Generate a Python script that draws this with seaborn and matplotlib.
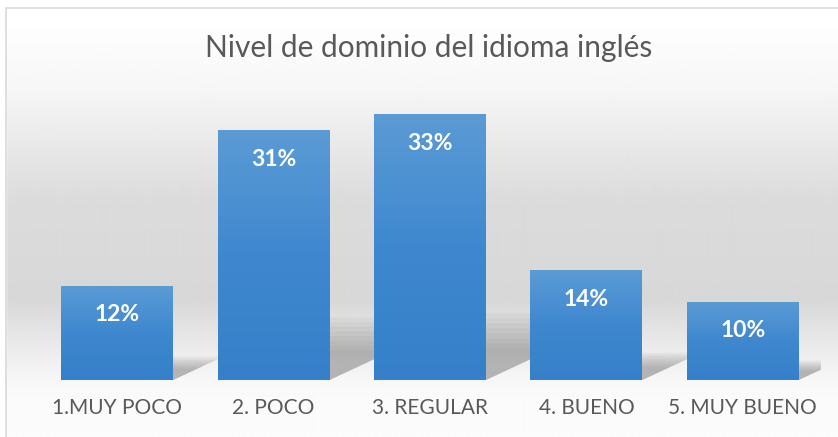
import numpy as np
import pandas as pd
import matplotlib
matplotlib.use("Agg")
import matplotlib.pyplot as plt
import seaborn as sns
from matplotlib.colors import LinearSegmentedColormap
from matplotlib.patches import Polygon

# Data (percent of respondents)
categories = ["1.MUY POCO", "2. POCO", "3. REGULAR", "4. BUENO", "5. MUY BUENO"]
values = [11.7, 31.0, 33.0, 13.6, 9.7]
labels = ["12%", "31%", "33%", "14%", "10%"]
title = "Nivel de dominio del idioma inglés"

df = pd.DataFrame({"nivel": categories, "pct": values})

sns.set_theme(style="white")
plt.rcParams["font.family"] = ["Lato", "DejaVu Sans"]

W, H = 838, 437
fig = plt.figure(figsize=(W / 100, H / 100), dpi=100)

# background: chart-area gradient like the Excel style
bg = fig.add_axes([0, 0, 1, 1], zorder=-2)
bg.set_axis_off()
stops_y = [0, 8, 20, 90, 200, 300, 340, 378, 392, 437]
stops_v = [1.0, 1.0, 1.0, 0.965, 0.86, 0.845, 0.91, 0.965, 0.98, 0.985]
ys = np.arange(H)
grad = np.interp(ys, stops_y, stops_v)
img = np.repeat(grad[:, None], 4, axis=1)
bg.imshow(img, cmap="gray", vmin=0, vmax=1, aspect="auto",
          extent=[0, W, H, 0], interpolation="bilinear")
bg.set_xlim(0, W)
bg.set_ylim(H, 0)
bg.fill_between([0, W], 0, 8, color="white", zorder=1)
bg.fill_between([0, 6], 0, H, color="white", zorder=1)
bg.plot([6, W], [8, 8], color="#d9d9d9", lw=1.2, zorder=2)
bg.plot([6, 6], [8, H], color="#d9d9d9", lw=1.2, zorder=2)

# plot area
x0, x1 = 39 / W, 821 / W
y_bot = 1 - 380 / H
y_top = 1 - 114 / H
ax = fig.add_axes([x0, y_bot, x1 - x0, y_top - y_bot])
ax.patch.set_alpha(0)

sns.barplot(data=df, x="nivel", y="pct", color="#4a8fd2", width=0.716,
            saturation=1, ax=ax, zorder=3)
ax.set_ylim(0, 33.0)
ax.set_xlim(-0.5, 4.5)

bar_cmap = LinearSegmentedColormap.from_list("bar", ["#3580c9", "#3f88cf", "#5b9bd5"])
grad_img = np.linspace(0, 1, 256)[:, None]

for patch, lab in zip(ax.patches, labels):
    bx, bw, bh = patch.get_x(), patch.get_width(), patch.get_height()
    # soft perspective shadow behind the bar, stacked to look blurred
    for k in np.linspace(0.6, 1.25, 8):
        lift = bh * 0.2 * k
        shift = bh * 0.022 * k
        poly = Polygon([(bx, 0), (bx + bw, 0),
                        (bx + bw + shift, lift),
                        (bx + shift * 0.3, lift)],
                       closed=True, facecolor="#6a6a6a", alpha=0.07,
                       edgecolor="none", zorder=2)
        ax.add_patch(poly)
    patch.set_edgecolor("none")
    im = ax.imshow(grad_img, cmap=bar_cmap, aspect="auto", origin="lower",
                   extent=[bx, bx + bw, 0, bh], zorder=4)
    im.set_clip_path(patch)
    ax.text(bx + bw / 2, bh - 3.6, lab, ha="center", va="center",
            color="white", fontsize=16.5, fontweight="bold", zorder=5)

ax.set_xlim(-0.5, 4.5)
ax.set_ylim(0, 33.0)
ax.set_yticks([])
ax.set_xlabel("")
ax.set_ylabel("")
sns.despine(ax=ax, left=True, bottom=True)
ax.tick_params(axis="x", length=0, pad=13, labelsize=15, labelcolor="#595959")

fig.text(429 / W, 1 - 48 / H, title, ha="center", va="center",
         fontsize=21.5, color="#595959")

fig.savefig("out.png", dpi=100)
